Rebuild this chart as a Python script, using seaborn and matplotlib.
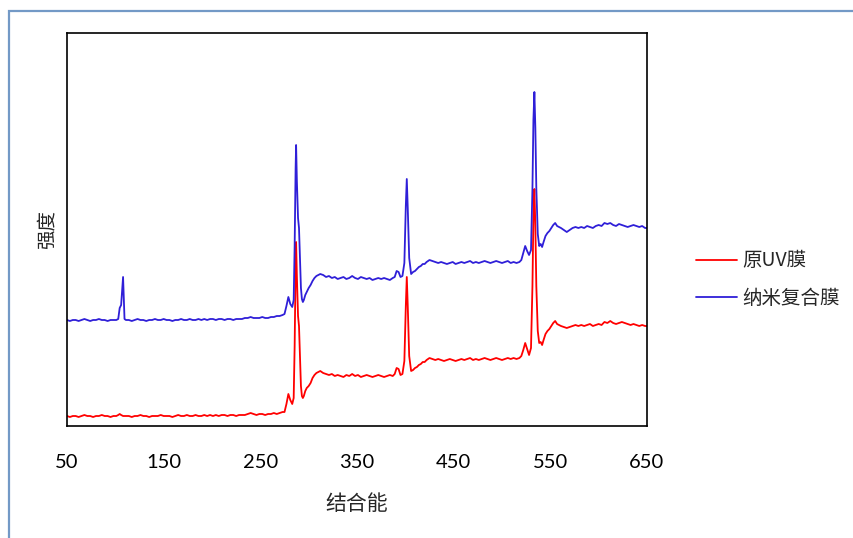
import numpy as np
import pandas as pd
import matplotlib
matplotlib.use("Agg")
import matplotlib.pyplot as plt
import matplotlib.patches as mpatches
import seaborn as sns

# ---------------- data (binding energy, eV) ----------------
energy = [
    # 50-101
    50, 53, 56, 59, 62, 65, 68, 71, 74, 77, 80, 83, 86, 89, 92, 95, 98, 101,
    # Si peak
    103, 104.5, 106, 108, 109.5, 111,
    # 114-273
    114, 117, 120, 123, 126, 129, 132, 135, 138, 141,
    144, 147, 150, 153, 156, 159, 162, 165, 168, 171,
    174, 177, 180, 183, 186, 189, 192, 195, 198, 201,
    204, 207, 210, 213, 216, 219, 222, 225, 228, 231,
    234, 237, 240, 243, 246, 249, 252, 255, 258, 261,
    264, 267, 270, 273,
    # C1s region
    275, 277, 279, 281, 283, 284.5, 285.5, 286.5, 287, 287.8, 289, 290, 291,
    292, 293, 294, 295, 296.5, 298, 300, 302, 304, 306, 308, 310, 312,
    # plateau
    315, 318, 321, 324, 327, 330, 333, 336, 339, 342,
    345, 348, 351, 354, 357, 360, 363, 366, 369, 372,
    375, 378, 381, 384, 387,
    # N1s region
    389, 391, 393, 395, 397, 399, 400.5, 401.5, 402.5, 404, 406, 408, 410,
    412, 414, 416, 418, 420, 422,
    # 425-518
    425, 428, 431, 434, 437, 440, 443, 446, 449, 452,
    455, 458, 461, 464, 467, 470, 473, 476, 479, 482,
    485, 488, 491, 494, 497, 500, 503, 506, 509, 512,
    515, 518,
    # O1s region
    520, 522, 524, 526, 528, 530, 531.5, 532.5, 533.5, 534.5, 535.5, 537,
    538.5, 540, 541.5, 543, 545, 547, 549, 551, 553, 555, 557, 559, 561,
    # 564-650
    564, 567, 570, 573, 576, 579, 582, 585, 588, 591,
    594, 597, 600, 603, 606, 609, 612, 615, 618, 621,
    624, 627, 630, 633, 636, 639, 642, 645, 648, 650,
]

intensity_uv = [
    10, 9, 10, 10, 9, 10, 11, 10, 10, 9, 10, 10, 11, 10, 10, 9, 10, 10,
    11, 12, 11, 10, 10, 10,
    10, 9, 10, 10, 11, 10, 10, 9, 10, 10,
    10, 11, 10, 10, 10, 9, 10, 11, 10, 10,
    11, 10, 10, 11, 10, 10, 11, 10, 11, 10,
    11, 10, 11, 11, 10, 11, 11, 10, 11, 11,
    11, 12, 13, 12, 11, 12, 12, 11, 12, 12,
    13, 12, 13, 14,
    14, 22, 32, 26, 22, 28, 80, 160, 184, 150, 110, 100, 70,
    40, 30, 28, 30, 35, 38, 40, 43, 48, 51, 53, 54, 55,
    53, 52, 51, 52, 50, 51, 50, 49, 51, 50,
    52, 50, 51, 49, 50, 51, 50, 49, 50, 51,
    50, 49, 50, 51, 50,
    52, 58, 57, 51, 52, 65, 120, 149, 120, 70, 55, 56, 58,
    59, 61, 62, 64, 64, 66,
    68, 67, 66, 67, 66, 65, 66, 67, 66, 65,
    66, 67, 66, 67, 68, 66, 67, 66, 67, 68,
    67, 66, 67, 68, 67, 66, 67, 68, 67, 68,
    67, 68,
    70, 76, 83, 77, 71, 78, 140, 210, 237, 200, 140, 95,
    83, 84, 81, 86, 92, 95, 97, 100, 103, 105, 102, 101, 100,
    99, 98, 99, 100, 101, 100, 101, 100, 101, 102,
    100, 101, 102, 101, 104, 103, 105, 103, 102, 103,
    104, 103, 102, 101, 102, 101, 100, 101, 100, 100,
]

intensity_nano = [
    106, 105, 106, 106, 105, 106, 107, 106, 105, 106, 106, 107, 106, 106, 105, 106, 106, 106,
    107, 118, 121, 149, 107, 106,
    106, 105, 106, 107, 106, 106, 105, 106, 106, 107,
    106, 106, 107, 106, 106, 105, 106, 106, 107, 106,
    106, 107, 106, 106, 107, 106, 107, 106, 107, 107,
    106, 107, 107, 106, 107, 107, 106, 107, 107, 107,
    108, 108, 109, 108, 108, 108, 109, 108, 108, 109,
    109, 110, 110, 111,
    112, 120, 129, 122, 119, 126, 180, 258, 281, 245, 208, 198, 168,
    138, 127, 124, 126, 131, 134, 138, 141, 145, 148, 150, 151, 152,
    151, 149, 150, 148, 149, 147, 148, 149, 147, 148,
    150, 148, 147, 149, 148, 147, 148, 146, 147, 148,
    147, 148, 147, 146, 148,
    149, 155, 154, 149, 150, 163, 220, 247, 218, 168, 152, 154, 155,
    157, 159, 160, 162, 162, 164,
    166, 165, 164, 163, 164, 163, 162, 163, 164, 162,
    163, 164, 163, 164, 165, 163, 164, 163, 164, 165,
    164, 163, 164, 165, 164, 163, 164, 165, 163, 164,
    163, 164,
    166, 173, 180, 175, 171, 176, 238, 306, 334, 298, 238, 192,
    180, 182, 179, 184, 190, 193, 195, 198, 201, 203, 200, 199, 198,
    196, 194, 196, 198, 199, 198, 199, 198, 200, 199,
    198, 200, 201, 200, 203, 202, 203, 201, 200, 202,
    201, 200, 199, 200, 201, 200, 199, 200, 198, 198,
]

series_names = ["原UV膜", "纳米复合膜"]
series_colors = ["#FF0000", "#2F1FD8"]
xticks_major = [50, 100, 150, 200, 250, 300, 350, 400, 450, 500, 550, 600, 650]
xtick_labels = ["50", "", "150", "", "250", "", "350", "", "450", "", "550", "", "650"]

# ---------------- build long-form table ----------------
df = pd.concat([
    pd.DataFrame({"结合能": energy, "强度": intensity_uv, "series": series_names[0]}),
    pd.DataFrame({"结合能": energy, "强度": intensity_nano, "series": series_names[1]}),
], ignore_index=True)

sns.set_style("white")
plt.rcParams["font.family"] = ["Lato", "Noto Sans CJK SC", "DejaVu Sans"]

W, H = 854, 538
fig = plt.figure(figsize=(W / 100, H / 100), dpi=100)
ax = fig.add_axes([67 / W, 1 - 426 / H, (647 - 67) / W, (426 - 33) / H])

sns.lineplot(data=df, x="结合能", y="强度", hue="series", hue_order=series_names,
             palette=series_colors, linewidth=1.3, ax=ax, estimator=None, sort=False)

ax.set_xlim(50, 650)
ax.set_ylim(0, 393)
ax.set_yticks([])
ax.set_xticks(xticks_major)
ax.set_xticklabels(xtick_labels)
ax.tick_params(axis="x", direction="out", length=4.5, width=1.0, color="black",
               pad=16, labelsize=14.5, labelcolor="black")
for s in ax.spines.values():
    s.set_visible(True)
    s.set_color("black")
    s.set_linewidth(1.2)

ax.set_xlabel("结合能", fontsize=15, labelpad=15.5, family=["Noto Sans CJK SC", "DejaVu Sans"])
ax.set_ylabel("强度", fontsize=14, labelpad=7, family=["Noto Sans CJK SC", "DejaVu Sans"])

ax.legend_.remove()
handles = [plt.Line2D([], [], color=c, lw=1.3) for c in series_colors]
fig.legend(handles, series_names, loc="upper left",
           bbox_to_anchor=(679 / W, 1 - 233 / H), frameon=False,
           prop={"family": ["Noto Sans CJK SC", "DejaVu Sans"], "size": 14},
           handlelength=2.1, handletextpad=0.25, labelspacing=0.85)

# outer chart-area border (clipped at right/bottom, as in the reference)
border = mpatches.Rectangle((9 / W, -0.2), 1.2, 1.2 - 11 / H, transform=fig.transFigure,
                            fill=False, edgecolor="#7399C6", linewidth=1.6, clip_on=False)
fig.patches.append(border)

fig.savefig("out.png", dpi=100)
